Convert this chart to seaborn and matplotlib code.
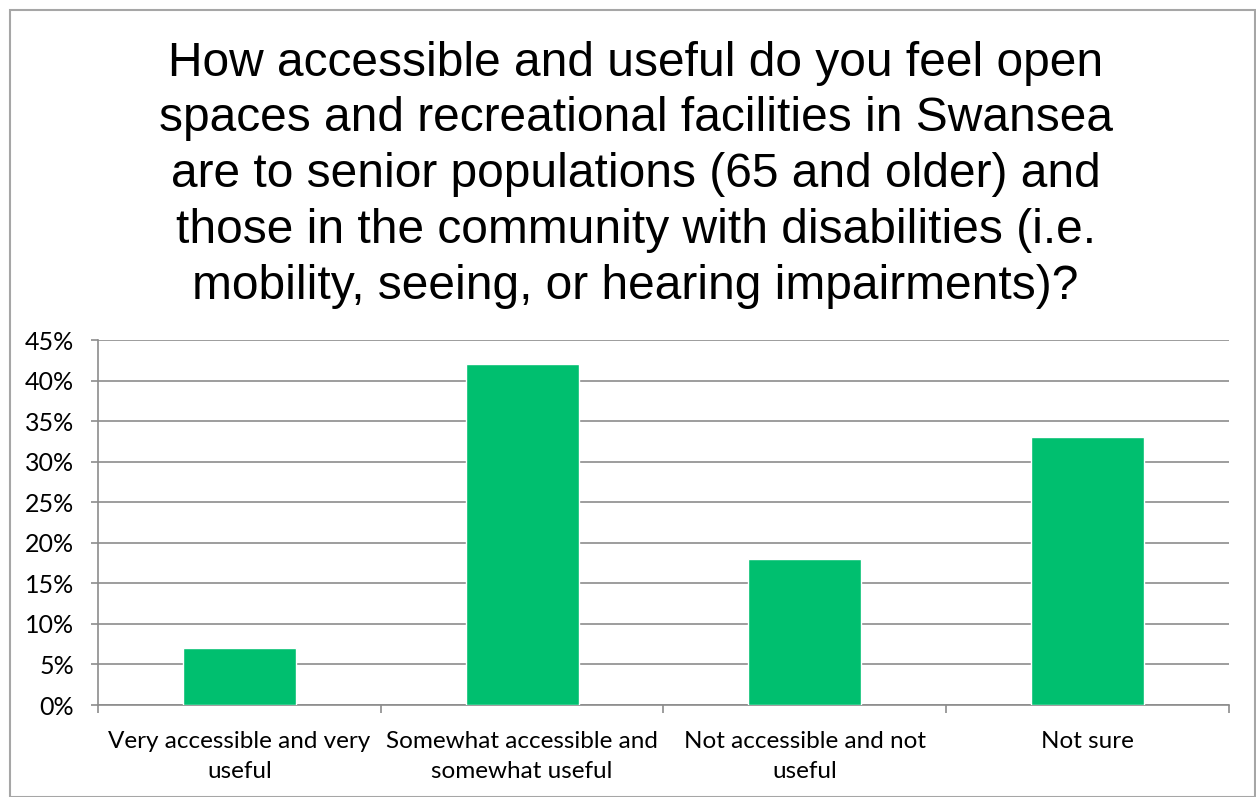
import matplotlib
matplotlib.use("Agg")
import matplotlib.pyplot as plt
import seaborn as sns
import pandas as pd
from matplotlib.ticker import FuncFormatter, MultipleLocator
from matplotlib.patches import Rectangle

categories = ["Very accessible and very\nuseful",
              "Somewhat accessible and\nsomewhat useful",
              "Not accessible and not\nuseful",
              "Not sure"]
values = [7, 42, 18, 33]
title = ("How accessible and useful do you feel open\n"
         "spaces and recreational facilities in Swansea\n"
         "are to senior populations (65 and older) and\n"
         "those in the community with disabilities (i.e.\n"
         "mobility, seeing, or hearing impairments)?")

sns.set_theme(style="white")
plt.rcParams['font.family'] = ['Lato', 'DejaVu Sans']
plt.rcParams['text.color'] = 'black'

df = pd.DataFrame({"cat": categories, "val": values})

fig = plt.figure(figsize=(12.56, 7.97), dpi=100)
ax = fig.add_axes([0.078, 0.1154, 0.9005, 0.458])

sns.barplot(data=df, x="cat", y="val", color="#00BF6F", width=0.4,
            saturation=1, ax=ax, zorder=3)

ax.set_ylim(0, 45)
ax.set_xlim(-0.5, 3.5)
ax.yaxis.set_major_locator(MultipleLocator(5))
ax.yaxis.set_major_formatter(FuncFormatter(lambda v, p: f"{int(round(v))}%"))
ax.grid(axis="y", color="#8c8c8c", linewidth=1.2, zorder=0)
ax.set_axisbelow(True)
for s in ["top", "right"]:
    ax.spines[s].set_visible(False)
for s in ["left", "bottom"]:
    ax.spines[s].set_color("#8c8c8c")
    ax.spines[s].set_linewidth(1.2)
ax.set_xlabel("")
ax.set_ylabel("")
ax.tick_params(axis="y", which="both", left=True, length=5, width=1.2,
               color="#8c8c8c", labelsize=18, pad=12, labelcolor="black")
ax.set_xticks([-0.5, 0.5, 1.5, 2.5, 3.5], minor=False)
ax.set_xticklabels([])
ax.set_xticks([0, 1, 2, 3], minor=True)
ax.set_xticklabels(categories, minor=True, linespacing=1.5)
ax.tick_params(axis="x", which="major", bottom=True, length=6, width=1.2,
               color="#8c8c8c")
ax.tick_params(axis="x", which="minor", bottom=False, length=0,
               labelsize=17.5, pad=19, labelcolor="black")

fig.text(0.506, 0.949, title, ha="center", va="top", fontsize=34.5,
         family=["Liberation Sans", "DejaVu Sans"], linespacing=1.31,
         color="black")

fig.patches.append(Rectangle((10 / 1256, 0), 1 - 10 / 1256 - 0.0005, 1 - 10 / 797,
                             transform=fig.transFigure, fill=False,
                             edgecolor="#a6a6a6", linewidth=1.5))

fig.savefig("out.png", dpi=100)
